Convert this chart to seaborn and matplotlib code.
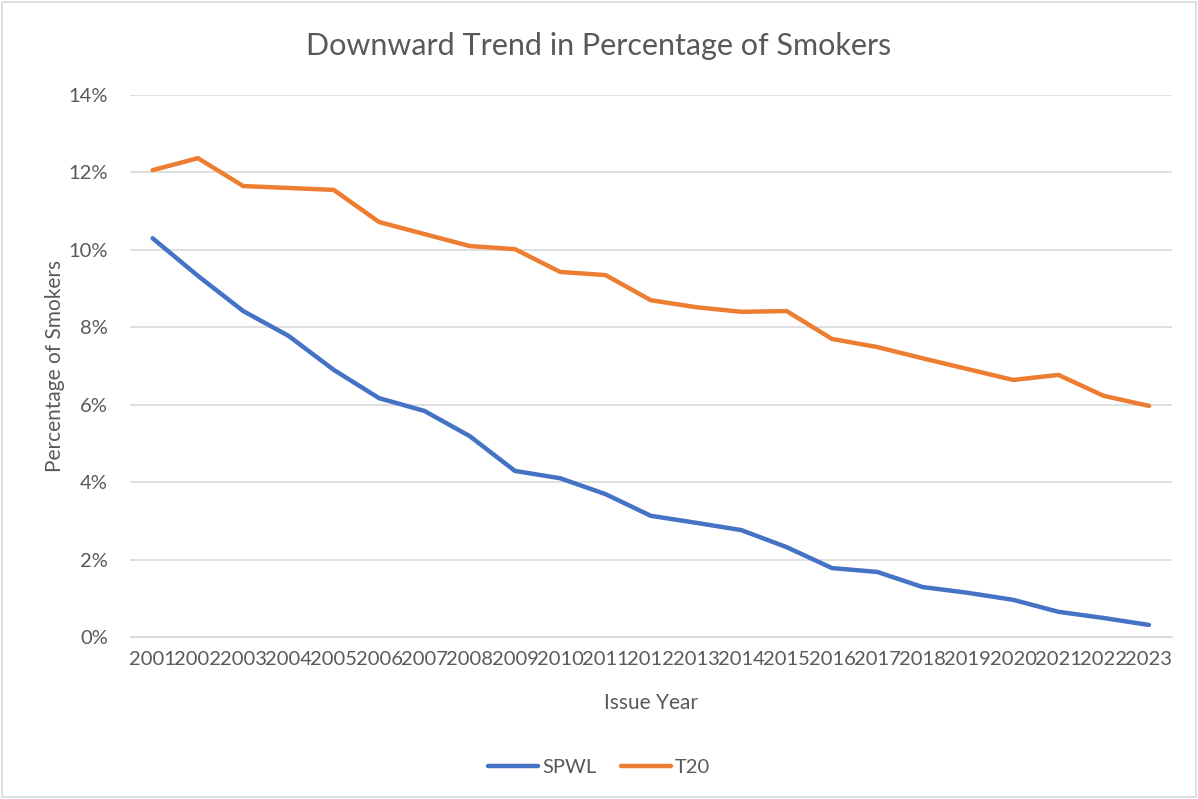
import pandas as pd
import matplotlib
matplotlib.use("Agg")
from matplotlib import pyplot as plt
from matplotlib.ticker import FuncFormatter
from matplotlib.patches import Rectangle
import seaborn as sns

years = list(range(2001, 2024))
spwl = [10.30, 9.33, 8.42, 7.78, 6.90, 6.17, 5.84, 5.19, 4.29, 4.10, 3.69, 3.13,
        2.95, 2.76, 2.32, 1.78, 1.68, 1.29, 1.14, 0.96, 0.65, 0.49, 0.31]
t20 = [12.06, 12.37, 11.65, 11.60, 11.55, 10.72, 10.41, 10.10, 10.02, 9.43, 9.35, 8.70,
       8.52, 8.40, 8.42, 7.70, 7.49, 7.20, 6.92, 6.64, 6.77, 6.23, 5.97]

df = pd.concat([
    pd.DataFrame({"Issue Year": years, "pct": spwl, "series": "SPWL"}),
    pd.DataFrame({"Issue Year": years, "pct": t20, "series": "T20"}),
])

sns.set_style("white")
plt.rcParams["font.family"] = ["Liberation Sans Narrow", "Lato", "DejaVu Sans"]
grey = "#595959"

fig = plt.figure(figsize=(11.98, 7.99), dpi=100)
ax = fig.add_axes([0.1085, 0.2028, 0.8695, 0.6782])

sns.lineplot(data=df, x="Issue Year", y="pct", hue="series",
             palette={"SPWL": "#4472C4", "T20": "#ED7D31"},
             linewidth=3.2, ax=ax, legend=False)

ax.set_xlim(2000.5, 2023.5)
ax.set_ylim(0, 14)
ax.set_xticks(years)
ax.set_xticklabels([str(y) for y in years])
ax.set_yticks(range(0, 15, 2))
ax.yaxis.set_major_formatter(FuncFormatter(lambda v, p: f"{v:.0f}%"))
ax.grid(axis="y", color="#D9D9D9", linewidth=1.2)
ax.set_axisbelow(True)
for s in ax.spines.values():
    s.set_visible(False)
ax.spines["bottom"].set_visible(True)
ax.spines["bottom"].set_color("#D9D9D9")
ax.tick_params(axis="both", length=0, colors=grey, labelsize=14.5)
ax.tick_params(axis="x", pad=10)
ax.tick_params(axis="y", pad=16)

ax.set_xlabel("Issue Year", color=grey, fontsize=15, labelpad=18)
ax.set_ylabel("Percentage of Smokers", color=grey, fontsize=15, labelpad=2)
fig.text(0.5, 0.943, "Downward Trend in Percentage of Smokers", ha="center", va="center",
         color=grey, fontsize=22)

handles = [plt.Line2D([], [], color="#4472C4", linewidth=3.2),
           plt.Line2D([], [], color="#ED7D31", linewidth=3.2)]
fig.legend(handles, ["SPWL", "T20"], loc="center", bbox_to_anchor=(0.5, 0.04), ncol=2,
           frameon=False, fontsize=14.5, labelcolor=grey, handlelength=2.5,
           handletextpad=0.2, columnspacing=1.2)

fig.patches.append(Rectangle((0.002, 0.003), 0.996, 0.994, transform=fig.transFigure,
                             fill=False, edgecolor="#D9D9D9", linewidth=1.2))

fig.savefig("out.png", dpi=100)
